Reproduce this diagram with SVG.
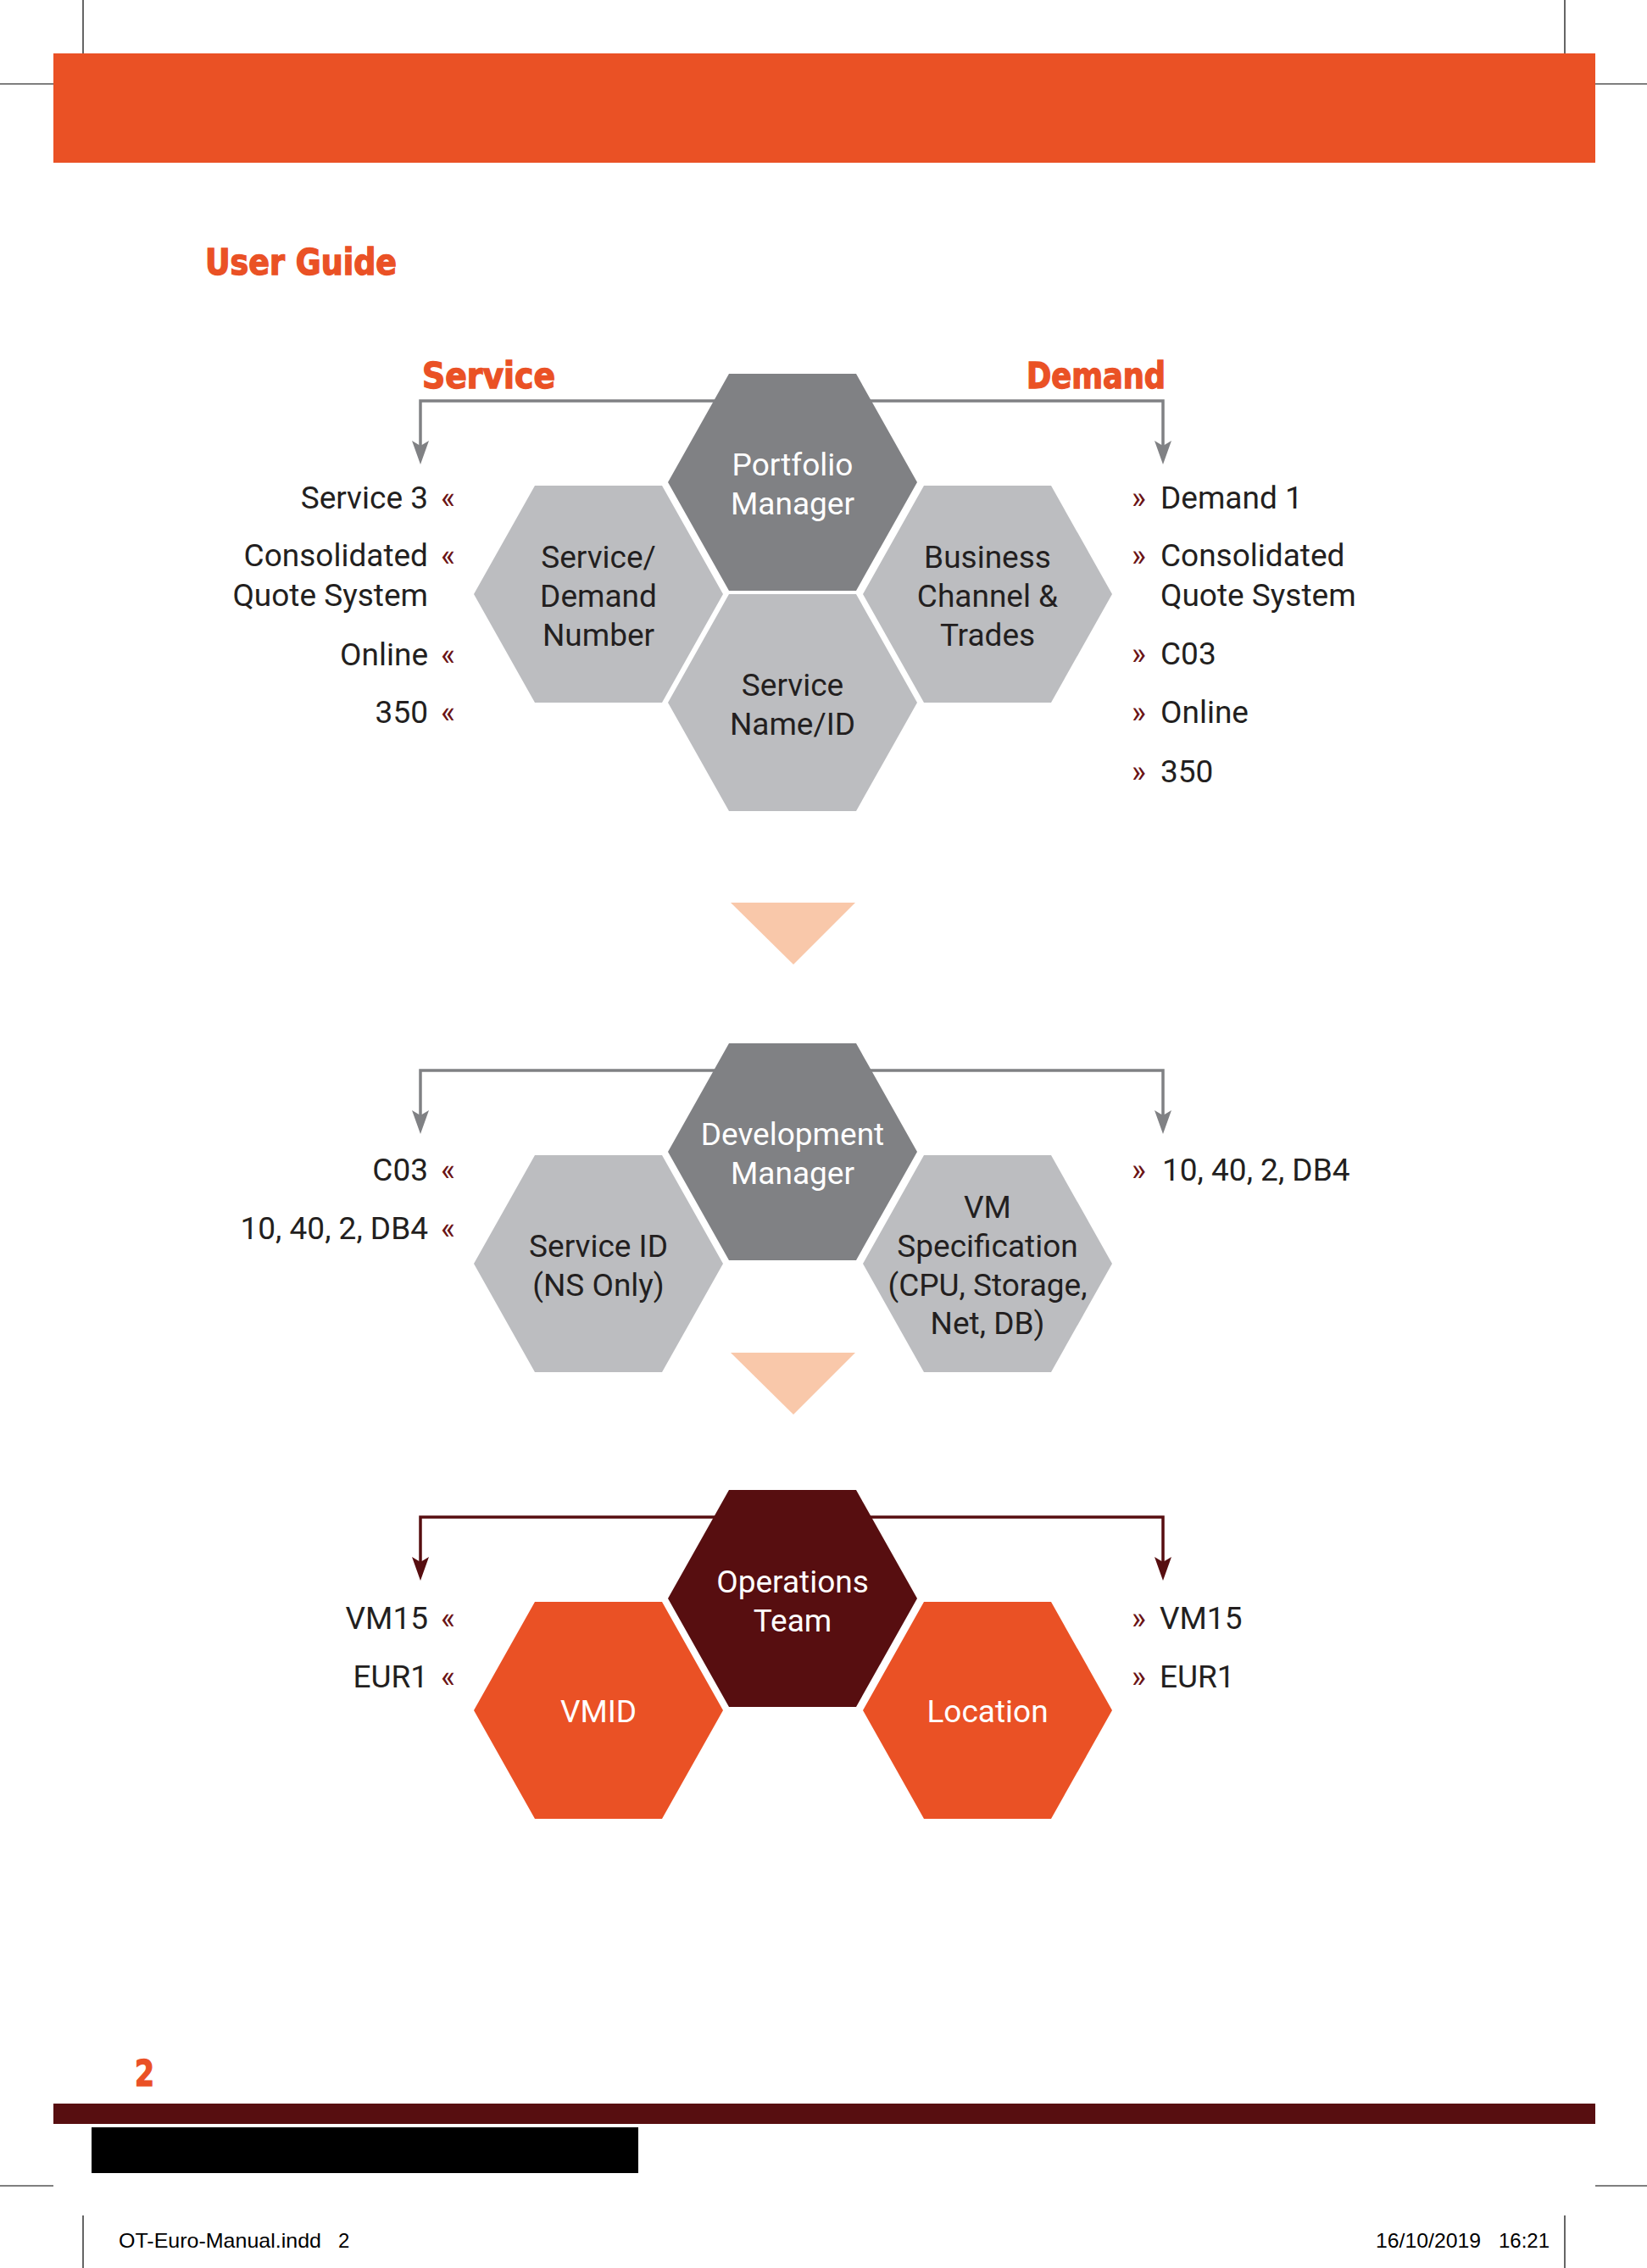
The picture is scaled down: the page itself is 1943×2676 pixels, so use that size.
<svg xmlns="http://www.w3.org/2000/svg" xmlns:xlink="http://www.w3.org/1999/xlink" width="1943" height="2676" viewBox="0 0 1943 2676">
<style>
.lbl{font-family:Roboto,"Liberation Sans",sans-serif;font-size:37px;fill:#231f20}
.lblr{font-family:Roboto,"Liberation Sans",sans-serif;font-size:37px;fill:#231f20;text-anchor:end}
.gm{font-family:Roboto,"Liberation Sans",sans-serif;font-size:36px;fill:#6b1416}
.hx{font-family:Roboto,"Liberation Sans",sans-serif;font-size:37px;text-anchor:middle}
.hw{fill:#ffffff}
.hd{fill:#231f20}
.head{font-family:"DejaVu Sans Condensed","DejaVu Sans",sans-serif;font-stretch:condensed;font-weight:bold;font-size:42px;fill:#ea5125;stroke:#ea5125;stroke-width:1.3}
.foot{font-family:"Liberation Sans",Arial,sans-serif;font-size:24px;fill:#000}
.crop{stroke:#000;stroke-width:1.2;fill:none}
.conn-g{stroke:#808184;stroke-width:3.5;fill:none}
.conn-m{stroke:#570e10;stroke-width:3.5;fill:none}
.dark{fill:#808184}
.light{fill:#bcbdc0}
.maroon{fill:#570e10}
.orange{fill:#ea5125}
.peach{fill:#f9c8aa}
</style>
<defs>
<path id="hex" d="M-147,0 L-75,-128 L75,-128 L147,0 L75,128 L-75,128 Z"/>
<marker id="ag" viewBox="-8 -10 28 20" refX="0" refY="0" markerWidth="28" markerHeight="20" markerUnits="userSpaceOnUse" orient="auto">
<path d="M20,0 L-8,-10 L-2,0 L-8,10 Z" fill="#808184"/>
</marker>
<marker id="am" viewBox="-8 -10 28 20" refX="0" refY="0" markerWidth="28" markerHeight="20" markerUnits="userSpaceOnUse" orient="auto">
<path d="M20,0 L-8,-10 L-2,0 L-8,10 Z" fill="#570e10"/>
</marker>
</defs>
<rect width="1943" height="2676" fill="#ffffff"/>

<g id="page">
<rect x="63" y="63" width="1819" height="129" fill="#ea5125"/>
<path class="crop" d="M98,0 V63 M1846,0 V63 M0,99 H63 M1882,99 H1943 M0,2579 H63 M1882,2579 H1943 M98,2614 V2676 M1846,2614 V2676"/>
<text class="head" x="242" y="324" font-size="44" textLength="226" lengthAdjust="spacingAndGlyphs">User Guide</text>
<text class="head" x="159" y="2461" font-size="44" textLength="23" lengthAdjust="spacingAndGlyphs">2</text>
<rect x="63" y="2482" width="1819" height="24" fill="#570e10"/>
<rect x="108" y="2510" width="645" height="54" fill="#000"/>
<text class="foot" x="140" y="2652" textLength="239" lengthAdjust="spacingAndGlyphs">OT-Euro-Manual.indd</text>
<text class="foot" x="399" y="2652">2</text>
<text class="foot" x="1623" y="2652" textLength="124" lengthAdjust="spacingAndGlyphs">16/10/2019</text>
<text class="foot" x="1768" y="2652" textLength="60" lengthAdjust="spacingAndGlyphs">16:21</text>
</g>

<g id="connectors">
<path class="conn-g" d="M935,473 H496 V528" marker-end="url(#ag)"/>
<path class="conn-g" d="M935,473 H1372 V528" marker-end="url(#ag)"/>
<path class="conn-g" d="M935,1263 H496 V1318" marker-end="url(#ag)"/>
<path class="conn-g" d="M935,1263 H1372 V1318" marker-end="url(#ag)"/>
<path class="conn-m" d="M935,1790 H496 V1845" marker-end="url(#am)"/>
<path class="conn-m" d="M935,1790 H1372 V1845" marker-end="url(#am)"/>
<polygon class="peach" points="862,1065 1009,1065 936,1138"/>
<polygon class="peach" points="862,1596 1009,1596 936,1669"/>
</g>

<g id="headings">
<text class="head" x="498" y="458" font-size="40" textLength="157" lengthAdjust="spacingAndGlyphs">Service</text>
<text class="head" x="1211" y="458" font-size="40" textLength="164" lengthAdjust="spacingAndGlyphs">Demand</text>
</g>

<g id="node-portfolio-manager">
<use xlink:href="#hex" href="#hex" x="935" y="569" class="dark"/>
<text class="hx hw" x="935" y="561">Portfolio</text>
<text class="hx hw" x="935" y="607">Manager</text>
</g>
<g id="node-service-demand-number">
<use xlink:href="#hex" href="#hex" x="706" y="701" class="light"/>
<text class="hx hd" x="706" y="670">Service/</text>
<text class="hx hd" x="706" y="716">Demand</text>
<text class="hx hd" x="706" y="762">Number</text>
</g>
<g id="node-business-channel">
<use xlink:href="#hex" href="#hex" x="1165" y="701" class="light"/>
<text class="hx hd" x="1165" y="670">Business</text>
<text class="hx hd" x="1165" y="716">Channel &amp;</text>
<text class="hx hd" x="1165" y="762">Trades</text>
</g>
<g id="node-service-name">
<use xlink:href="#hex" href="#hex" x="935" y="829" class="light"/>
<text class="hx hd" x="935" y="821">Service</text>
<text class="hx hd" x="935" y="867">Name/ID</text>
</g>

<g id="labels-service-1">
<text class="lblr" x="505" y="600">Service 3</text>
<text class="lblr" x="505" y="668">Consolidated</text>
<text class="lblr" x="505" y="715">Quote System</text>
<text class="lblr" x="505" y="785">Online</text>
<text class="lblr" x="505" y="853">350</text>
<text class="gm" x="520" y="600">«</text>
<text class="gm" x="520" y="668">«</text>
<text class="gm" x="520" y="785">«</text>
<text class="gm" x="520" y="853">«</text>
</g>
<g id="labels-demand-1">
<text class="gm" x="1335" y="600">»</text>
<text class="gm" x="1335" y="668">»</text>
<text class="gm" x="1335" y="784">»</text>
<text class="gm" x="1335" y="853">»</text>
<text class="gm" x="1335" y="923">»</text>
<text class="lbl" x="1369" y="600">Demand 1</text>
<text class="lbl" x="1369" y="668">Consolidated</text>
<text class="lbl" x="1369" y="715">Quote System</text>
<text class="lbl" x="1369" y="784">C03</text>
<text class="lbl" x="1369" y="853">Online</text>
<text class="lbl" x="1369" y="923">350</text>
</g>

<g id="node-development-manager">
<use xlink:href="#hex" href="#hex" x="935" y="1359" class="dark"/>
<text class="hx hw" x="935" y="1351">Development</text>
<text class="hx hw" x="935" y="1397">Manager</text>
</g>
<g id="node-service-id">
<use xlink:href="#hex" href="#hex" x="706" y="1491" class="light"/>
<text class="hx hd" x="706" y="1483">Service ID</text>
<text class="hx hd" x="706" y="1529">(NS Only)</text>
</g>
<g id="node-vm-specification">
<use xlink:href="#hex" href="#hex" x="1165" y="1491" class="light"/>
<text class="hx hd" x="1165" y="1437">VM</text>
<text class="hx hd" x="1165" y="1483">Specification</text>
<text class="hx hd" x="1165" y="1529">(CPU, Storage,</text>
<text class="hx hd" x="1165" y="1574">Net, DB)</text>
</g>
<g id="labels-2">
<text class="lblr" x="505" y="1393">C03</text>
<text class="lblr" x="505" y="1462">10, 40, 2, DB4</text>
<text class="gm" x="520" y="1393">«</text>
<text class="gm" x="520" y="1462">«</text>
<text class="gm" x="1335" y="1393">»</text>
<text class="lbl" x="1371" y="1393">10, 40, 2, DB4</text>
</g>

<g id="node-operations-team">
<use xlink:href="#hex" href="#hex" x="935" y="1886" class="maroon"/>
<text class="hx hw" x="935" y="1879">Operations</text>
<text class="hx hw" x="935" y="1925">Team</text>
</g>
<g id="node-vmid">
<use xlink:href="#hex" href="#hex" x="706" y="2018" class="orange"/>
<text class="hx hw" x="706" y="2032">VMID</text>
</g>
<g id="node-location">
<use xlink:href="#hex" href="#hex" x="1165" y="2018" class="orange"/>
<text class="hx hw" x="1165" y="2032">Location</text>
</g>
<g id="labels-3">
<text class="lblr" x="505" y="1922">VM15</text>
<text class="lblr" x="505" y="1991">EUR1</text>
<text class="gm" x="520" y="1922">«</text>
<text class="gm" x="520" y="1991">«</text>
<text class="gm" x="1335" y="1922">»</text>
<text class="gm" x="1335" y="1991">»</text>
<text class="lbl" x="1368" y="1922">VM15</text>
<text class="lbl" x="1368" y="1991">EUR1</text>
</g>
</svg>
